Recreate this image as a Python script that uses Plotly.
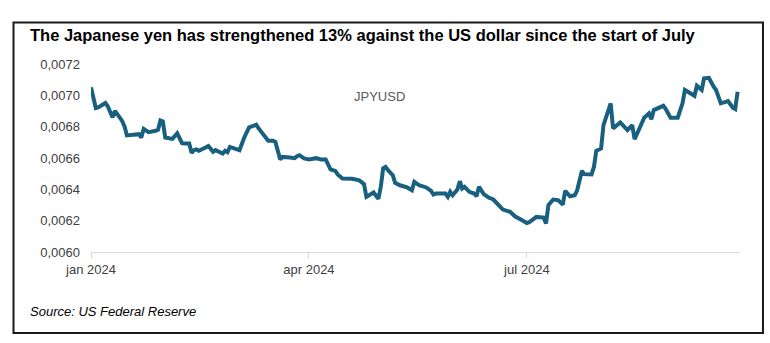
import plotly.graph_objects as go

dates = [
    "2024-01-01", "2024-01-03", "2024-01-04", "2024-01-07", "2024-01-08", "2024-01-10",
    "2024-01-11", "2024-01-14", "2024-01-15", "2024-01-16", "2024-01-21", "2024-01-22",
    "2024-01-23", "2024-01-25", "2024-01-28", "2024-01-29", "2024-01-30", "2024-01-31",
    "2024-02-01", "2024-02-04", "2024-02-06", "2024-02-08", "2024-02-09", "2024-02-11",
    "2024-02-12", "2024-02-13", "2024-02-14", "2024-02-15", "2024-02-17", "2024-02-19",
    "2024-02-21", "2024-02-22", "2024-02-25", "2024-02-26", "2024-02-27", "2024-02-28",
    "2024-03-02", "2024-03-03", "2024-03-05", "2024-03-07", "2024-03-09", "2024-03-10",
    "2024-03-11", "2024-03-12", "2024-03-14", "2024-03-15", "2024-03-17", "2024-03-18",
    "2024-03-20", "2024-03-21", "2024-03-24", "2024-03-26", "2024-03-27", "2024-03-28",
    "2024-03-30", "2024-04-01", "2024-04-04", "2024-04-06", "2024-04-08", "2024-04-09",
    "2024-04-10", "2024-04-12", "2024-04-13", "2024-04-15", "2024-04-19", "2024-04-22",
    "2024-04-24", "2024-04-25", "2024-04-27", "2024-04-28", "2024-04-30", "2024-05-01",
    "2024-05-02", "2024-05-03", "2024-05-04", "2024-05-06", "2024-05-07", "2024-05-09",
    "2024-05-12", "2024-05-14", "2024-05-15", "2024-05-17", "2024-05-20", "2024-05-22",
    "2024-05-23", "2024-05-24", "2024-05-28", "2024-05-29", "2024-05-30", "2024-05-31",
    "2024-06-02", "2024-06-03", "2024-06-04", "2024-06-05", "2024-06-07", "2024-06-09",
    "2024-06-10", "2024-06-11", "2024-06-13", "2024-06-15", "2024-06-17", "2024-06-19",
    "2024-06-21", "2024-06-24", "2024-06-26", "2024-06-29", "2024-07-01", "2024-07-02",
    "2024-07-05", "2024-07-08", "2024-07-09", "2024-07-10", "2024-07-12", "2024-07-14",
    "2024-07-16", "2024-07-17", "2024-07-19", "2024-07-21", "2024-07-22", "2024-07-24",
    "2024-07-25", "2024-07-28", "2024-07-29", "2024-07-30", "2024-08-01", "2024-08-02",
    "2024-08-05", "2024-08-06", "2024-08-09", "2024-08-12", "2024-08-14", "2024-08-15",
    "2024-08-19", "2024-08-21", "2024-08-22", "2024-08-23", "2024-08-25", "2024-08-27",
    "2024-08-28", "2024-08-30", "2024-09-02", "2024-09-04", "2024-09-05", "2024-09-09",
    "2024-09-10", "2024-09-12", "2024-09-13", "2024-09-15", "2024-09-17", "2024-09-18",
    "2024-09-20", "2024-09-23", "2024-09-25", "2024-09-26", "2024-09-27",
]

jpyusd = [
    0.007051, 0.006919, 0.006923, 0.006951, 0.006930, 0.006859,
    0.006901, 0.006837, 0.006802, 0.006744, 0.006752, 0.006731,
    0.006786, 0.006765, 0.006774, 0.006780, 0.006840, 0.006834,
    0.006731, 0.006722, 0.006757, 0.006695, 0.006693, 0.006693,
    0.006633, 0.006650, 0.006655, 0.006646, 0.006661, 0.006676,
    0.006639, 0.006650, 0.006629, 0.006646, 0.006637, 0.006671,
    0.006655, 0.006650, 0.006731, 0.006795, 0.006806, 0.006812,
    0.006789, 0.006770, 0.006735, 0.006710, 0.006710, 0.006703,
    0.006591, 0.006607, 0.006603, 0.006599, 0.006612, 0.006618,
    0.006597, 0.006591, 0.006599, 0.006591, 0.006591, 0.006561,
    0.006527, 0.006518, 0.006495, 0.006469, 0.006467, 0.006458,
    0.006433, 0.006352, 0.006373, 0.006380, 0.006339, 0.006416,
    0.006535, 0.006543, 0.006522, 0.006490, 0.006441, 0.006426,
    0.006412, 0.006394, 0.006448, 0.006426, 0.006412, 0.006390,
    0.006367, 0.006373, 0.006373, 0.006352, 0.006384, 0.006362,
    0.006399, 0.006452, 0.006405, 0.006416, 0.006384, 0.006373,
    0.006356, 0.006416, 0.006369, 0.006348, 0.006335, 0.006305,
    0.006271, 0.006256, 0.006228, 0.006203, 0.006185, 0.006190,
    0.006224, 0.006220, 0.006182, 0.006299, 0.006335, 0.006331,
    0.006303, 0.006390, 0.006356, 0.006362, 0.006394, 0.006518,
    0.006497, 0.006495, 0.006543, 0.006646, 0.006661, 0.006810,
    0.006949, 0.006789, 0.006827, 0.006778, 0.006810, 0.006720,
    0.006857, 0.006885, 0.006848, 0.006906, 0.006921, 0.006933,
    0.006912, 0.006857, 0.006857, 0.006949, 0.007034, 0.006997,
    0.007061, 0.007034, 0.007109, 0.007112, 0.007055, 0.007034,
    0.006949, 0.006963, 0.006921, 0.006912, 0.007023,
]

x_tick_vals = ["2024-01-01", "2024-04-01", "2024-07-01"]
x_tick_text = ["jan 2024", "apr 2024", "jul 2024"]
y_tick_vals = [0.0060, 0.0062, 0.0064, 0.0066, 0.0068, 0.0070, 0.0072]

title_text = "The Japanese yen has strengthened 13% against the US dollar since the start of July"
series_name = "JPYUSD"
source_text = "Source: US Federal Reserve"

FONT = "Liberation Sans, Arial, sans-serif"
LINE_COLOR = "#195f80"

fig = go.Figure()
fig.add_trace(go.Scatter(
    x=dates, y=jpyusd, mode="lines", name=series_name,
    line=dict(color=LINE_COLOR, width=4), showlegend=False,
))

fig.update_layout(
    width=770, height=343,
    margin=dict(l=91, r=30, t=64, b=91),
    paper_bgcolor="white", plot_bgcolor="white",
    separators=", ",
    font=dict(family=FONT, size=13, color="#404040"),
    xaxis=dict(
        type="date", range=["2024-01-01", "2024-09-28"],
        tickvals=x_tick_vals, ticktext=x_tick_text,
        showgrid=False, zeroline=False,
        showline=True, linecolor="#d9d9d9", linewidth=1,
        ticks="outside", ticklen=5, tickcolor="#d9d9d9",
        tickfont=dict(size=13, color="#404040"),
    ),
    yaxis=dict(
        range=[0.0060, 0.0072], tickvals=y_tick_vals, tickformat=".4f",
        showgrid=False, zeroline=False, showline=False,
        ticks="", ticklabelstandoff=10,
        tickfont=dict(size=13, color="#404040"),
    ),
    shapes=[dict(
        type="rect", xref="paper", yref="paper",
        x0=-0.1194, x1=1.0354, y0=-0.4305, y1=1.2211,
        line=dict(color="#1a1a1a", width=2), fillcolor="rgba(0,0,0,0)",
    )],
    annotations=[
        dict(text="<b>" + title_text + "</b>", xref="paper", yref="paper",
             x=-0.0971, y=1.1545, xanchor="left", yanchor="middle", showarrow=False,
             font=dict(family=FONT, size=16.5, color="#000000")),
        dict(text=series_name, xref="paper", yref="paper",
             x=0.4438, y=0.8258, xanchor="center", yanchor="middle", showarrow=False,
             font=dict(family=FONT, size=13, color="#595959")),
        dict(text="<i>" + source_text + "</i>", xref="paper", yref="paper",
             x=-0.0971, y=-0.316, xanchor="left", yanchor="middle", showarrow=False,
             font=dict(family=FONT, size=13, color="#000000")),
    ],
)

fig.write_html("out.html")
